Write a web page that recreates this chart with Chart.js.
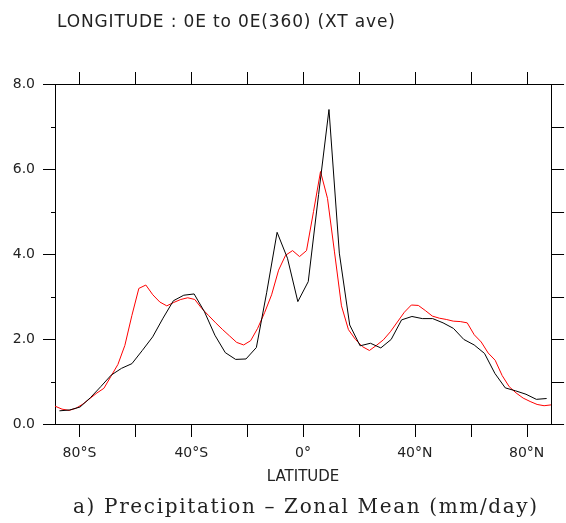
<!DOCTYPE html>
<html>
<head>
<meta charset="utf-8">
<script src="https://cdn.jsdelivr.net/npm/chart.js@4.4.1/dist/chart.umd.min.js"></script>
<style>
  html, body { margin: 0; padding: 0; background: #fff; }
  #wrap { width: 566px; height: 523px; }
</style>
</head>
<body>
<div id="wrap"><canvas id="zonalChart" width="566" height="523"></canvas></div>
<script>
// ---- data ----
// black curve, T31 gaussian latitudes
const blackLat = [-87.16, -83.48, -79.78, -76.07, -72.36, -68.65, -64.94, -61.23, -57.52, -53.81,
  -50.10, -46.39, -42.68, -38.97, -35.26, -31.54, -27.83, -24.12, -20.41, -16.70,
  -12.99, -9.28, -5.57, -1.86, 1.86, 5.57, 9.28, 12.99, 16.70, 20.41,
  24.12, 27.83, 31.54, 35.26, 38.97, 42.68, 46.39, 50.10, 53.81, 57.52,
  61.23, 64.94, 68.65, 72.36, 76.07, 79.78, 83.48, 87.16];
const blackPrecip = [0.31, 0.33, 0.40, 0.62, 0.88, 1.15, 1.31, 1.42, 1.73, 2.05,
  2.49, 2.90, 3.03, 3.06, 2.64, 2.09, 1.68, 1.52, 1.53, 1.80,
  3.10, 4.51, 3.90, 2.88, 3.35, 5.40, 7.40, 4.02, 2.33, 1.84,
  1.90, 1.79, 1.99, 2.45, 2.53, 2.48, 2.48, 2.38, 2.25, 1.99,
  1.86, 1.66, 1.19, 0.85, 0.78, 0.70, 0.58, 0.60];

// red curve, 2.5 degree latitudes
const redLat = [-88.75, -86.25, -83.75, -81.25, -78.75, -76.25, -73.75, -71.25, -68.75, -66.25,
  -63.75, -61.25, -58.75, -56.25, -53.75, -51.25, -48.75, -46.25, -43.75, -41.25,
  -38.75, -36.25, -33.75, -31.25, -28.75, -26.25, -23.75, -21.25, -18.75, -16.25,
  -13.75, -11.25, -8.75, -6.25, -3.75, -1.25, 1.25, 3.75, 6.25, 8.75,
  11.25, 13.75, 16.25, 18.75, 21.25, 23.75, 26.25, 28.75, 31.25, 33.75,
  36.25, 38.75, 41.25, 43.75, 46.25, 48.75, 51.25, 53.75, 56.25, 58.75,
  61.25, 63.75, 66.25, 68.75, 71.25, 73.75, 76.25, 78.75, 81.25, 83.75,
  86.25, 88.75];
const redPrecip = [0.42, 0.35, 0.32, 0.37, 0.47, 0.60, 0.73, 0.84, 1.12, 1.40,
  1.85, 2.55, 3.19, 3.27, 3.04, 2.87, 2.78, 2.86, 2.93, 2.97,
  2.93, 2.72, 2.55, 2.38, 2.22, 2.07, 1.92, 1.86, 1.96, 2.25,
  2.62, 3.04, 3.62, 3.97, 4.08, 3.94, 4.08, 5.00, 5.94, 5.31,
  4.05, 2.78, 2.22, 1.99, 1.82, 1.73, 1.85, 1.98, 2.17, 2.40,
  2.63, 2.80, 2.79, 2.67, 2.54, 2.49, 2.46, 2.42, 2.41, 2.38,
  2.10, 1.93, 1.67, 1.50, 1.14, 0.88, 0.73, 0.61, 0.53, 0.46,
  0.43, 0.45];

const latTicks = [-80, -60, -40, -20, 0, 20, 40, 60, 80];
const latLabels = { '-80': '80°S', '-40': '40°S', '0': '0°', '40': '40°N', '80': '80°N' };
const precipTicks = [0, 1, 2, 3, 4, 5, 6, 7, 8];

const topTitle = 'LONGITUDE : 0E to 0E(360) (XT ave)';
const xTitle = 'LATITUDE';
const caption = 'a) Precipitation – Zonal Mean (mm/day)';

const textColor = '#222';
const tickFont = { family: 'DejaVu Sans', size: 14 };

function toPoints(xs, ys) {
  return xs.map((x, i) => ({ x, y: ys[i] }));
}

// stretch a string to a given width with letter spacing (the original font is wide)
function fillSpaced(ctx, text, x, y, width) {
  ctx.letterSpacing = '0px';
  const natural = ctx.measureText(text).width;
  const extra = Math.max(0, (width - natural) / (text.length - 1));
  ctx.letterSpacing = extra.toFixed(2) + 'px';
  ctx.fillText(text, x, y);
  ctx.letterSpacing = '0px';
}

// tick marks drawn by hand so the minor ones can be shorter
const tickMarks = {
  id: 'tickMarks',
  afterDraw(chart) {
    const { ctx, chartArea: a, scales } = chart;
    ctx.save();
    ctx.strokeStyle = '#000';
    ctx.lineWidth = 1;
    ctx.beginPath();
    latTicks.forEach(v => {
      const px = Math.round(scales.x.getPixelForValue(v)) + 0.5;
      ctx.moveTo(px, a.bottom); ctx.lineTo(px, a.bottom + 13);
      ctx.moveTo(px, a.top); ctx.lineTo(px, a.top - 12);
    });
    precipTicks.forEach(v => {
      const py = Math.round(scales.y.getPixelForValue(v)) + 0.5;
      const len = v % 2 === 0 ? 12 : 4;
      ctx.moveTo(a.left - len, py); ctx.lineTo(a.left, py);
      ctx.moveTo(a.right, py); ctx.lineTo(a.right + 13, py);
    });
    ctx.stroke();
    ctx.restore();
  }
};

// titles
const labelsPlugin = {
  id: 'labelsPlugin',
  afterDraw(chart) {
    const { ctx, chartArea: a } = chart;
    ctx.save();
    ctx.fillStyle = textColor;
    ctx.textBaseline = 'alphabetic';
    ctx.textAlign = 'left';
    ctx.font = '17px "DejaVu Sans"';
    fillSpaced(ctx, topTitle, 57, 27, 338);
    ctx.textAlign = 'center';
    ctx.font = '15px "DejaVu Sans"';
    ctx.fillText(xTitle, (a.left + a.right) / 2, 481);
    ctx.textAlign = 'left';
    ctx.font = '20px "DejaVu Serif"';
    fillSpaced(ctx, caption, 73, 513, 464);
    ctx.restore();
  }
};

new Chart(document.getElementById('zonalChart'), {
  type: 'line',
  data: {
    datasets: [
      {
        data: toPoints(blackLat, blackPrecip),
        borderColor: '#000',
        borderWidth: 1,
        pointRadius: 0,
        tension: 0,
        fill: false
      },
      {
        data: toPoints(redLat, redPrecip),
        borderColor: '#ff0000',
        borderWidth: 1,
        pointRadius: 0,
        tension: 0,
        fill: false
      }
    ]
  },
  options: {
    responsive: false,
    devicePixelRatio: 1,
    animation: false,
    layout: { padding: 0 },
    plugins: {
      legend: { display: false },
      tooltip: { enabled: false }
    },
    scales: {
      x: {
        type: 'linear',
        position: 'bottom',
        min: -88.75,
        max: 88.75,
        afterBuildTicks: s => { s.ticks = latTicks.map(v => ({ value: v })); },
        afterFit: s => { s.height = 99; },
        grid: { display: false, drawTicks: false },
        border: { display: true, color: '#000', width: 1 },
        ticks: {
          autoSkip: false,
          maxRotation: 0,
          padding: 21,
          color: textColor,
          font: tickFont,
          callback: v => latLabels[String(v)] || ''
        }
      },
      x2: {
        type: 'linear',
        position: 'top',
        min: -88.75,
        max: 88.75,
        afterFit: s => { s.height = 84; },
        grid: { display: false, drawTicks: false },
        border: { display: true, color: '#000', width: 1 },
        ticks: { display: false }
      },
      y: {
        type: 'linear',
        position: 'left',
        min: 0,
        max: 8,
        afterBuildTicks: s => { s.ticks = precipTicks.map(v => ({ value: v })); },
        afterFit: s => { s.width = 55; },
        grid: { display: false, drawTicks: false },
        border: { display: true, color: '#000', width: 1 },
        ticks: {
          padding: 20,
          color: textColor,
          font: tickFont,
          callback: v => (v % 2 === 0 ? v.toFixed(1) : '')
        }
      },
      y2: {
        type: 'linear',
        position: 'right',
        min: 0,
        max: 8,
        afterFit: s => { s.width = 13; },
        grid: { display: false, drawTicks: false },
        border: { display: true, color: '#000', width: 1 },
        ticks: { display: false }
      }
    }
  },
  plugins: [tickMarks, labelsPlugin]
});
</script>
</body>
</html>
